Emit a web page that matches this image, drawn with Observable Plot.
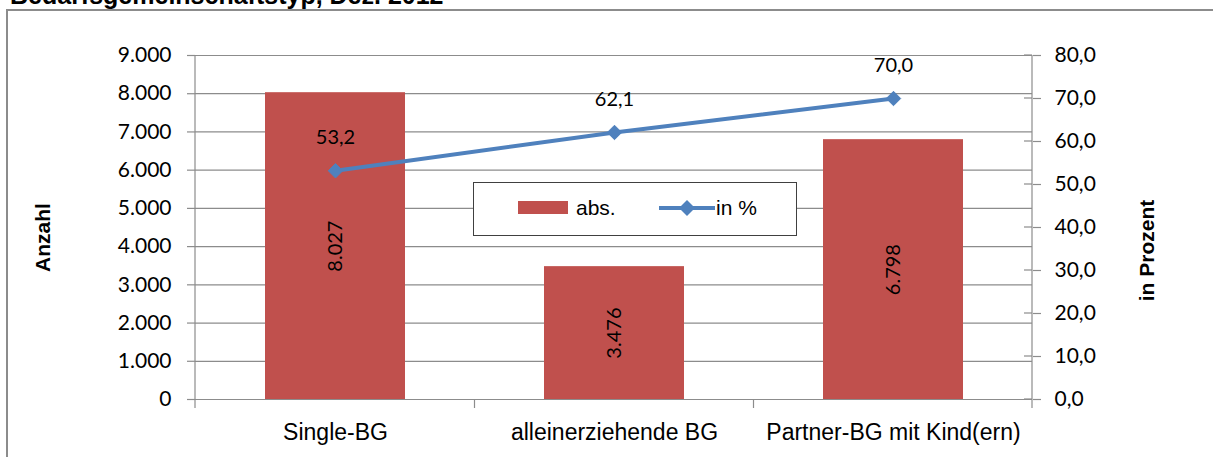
<!DOCTYPE html>
<html>
<head>
<meta charset="utf-8">
<script src="https://cdn.jsdelivr.net/npm/d3@7"></script>
<script src="https://cdn.jsdelivr.net/npm/@observablehq/plot@0.6"></script>
<style>
  html, body { margin: 0; padding: 0; background: #fff; overflow: hidden; }
  #wrap { position: relative; width: 1213px; height: 457px; overflow: hidden; }
  #title { position: absolute; left: 10px; top: -19px; font: bold 25px "Liberation Sans", Arial, sans-serif; color: #000; white-space: nowrap; }
  #frame { position: absolute; left: 6px; top: 9px; width: 1300px; height: 600px; border-left: 2px solid #8c8c8c; border-top: 2px solid #8c8c8c; }
  #chart { position: absolute; left: 0; top: 0; }
  #legend { position: absolute; left: 473px; top: 182px; width: 324px; height: 54px; box-sizing: border-box; border: 1.5px solid #404040; background: #fff;
            font: 21px "Liberation Sans Narrow", "Liberation Sans", sans-serif; color: #000; }
  #legend .item { position: absolute; top: 12px; display: flex; align-items: center; height: 26px; }
</style>
</head>
<body>
<div id="wrap">
  <div id="title">Bedarfsgemeinschaftstyp, Dez. 2012</div>
  <div id="frame"></div>
  <div id="chart"></div>
  <div id="legend"></div>
</div>
<script>
const categories = ["Single-BG", "alleinerziehende BG", "Partner-BG mit Kind(ern)"];
const absValues = [8027, 3476, 6798];
const pctValues = [53.2, 62.1, 70.0];
const leftTicks = [0, 1000, 2000, 3000, 4000, 5000, 6000, 7000, 8000, 9000];
const rightTicks = [0, 10, 20, 30, 40, 50, 60, 70, 80];
const legendLabels = ["abs.", "in %"];
const yLabelLeft = "Anzahl";
const yLabelRight = "in Prozent";

const barColor = "#C0504D";
const lineColor = "#4F81BD";
const gridColor = "#8c8c8c";

const locale = d3.formatLocale({decimal: ",", thousands: ".", grouping: [3], currency: ["", " €"]});
const fmtInt = locale.format(",.0f");
const fmt1 = locale.format(",.1f");

const leftMax = d3.max(leftTicks);
const rightMax = d3.max(rightTicks);
const k = leftMax / rightMax; // maps percent onto the left (count) scale

const data = categories.map((c, i) => ({cat: c, abs: absValues[i], pct: pctValues[i]}));

const W = 1213, H = 457;
const mL = 195, mR = 181, mT = 55, mB = 58;

// custom decorations drawn with the library's scales
function decorations(index, scales, values, dims) {
  const g = d3.create("svg:g");
  const x = scales.x, y = scales.y;
  const left = dims.marginLeft, right = dims.width - dims.marginRight;
  const y0 = y(0), yTop = y(leftMax);
  const centers = categories.map(c => x(c) + (x.bandwidth ? x.bandwidth() : 0) / 2);
  const bounds = [left];
  for (let i = 1; i < centers.length; i++) bounds.push((centers[i - 1] + centers[i]) / 2);
  bounds.push(right);
  g.append("line").attr("x1", left).attr("x2", left).attr("y1", yTop).attr("y2", y0).attr("stroke", gridColor).attr("stroke-width", 1.2);
  g.append("line").attr("x1", right).attr("x2", right).attr("y1", yTop).attr("y2", y0).attr("stroke", gridColor).attr("stroke-width", 1.2);
  for (const b of bounds) {
    g.append("line").attr("x1", b).attr("x2", b).attr("y1", y0).attr("y2", y0 + 9).attr("stroke", gridColor).attr("stroke-width", 1.2);
  }
  for (const t of rightTicks) {
    const yy = y(t * k);
    g.append("line").attr("x1", right - 8).attr("x2", right).attr("y1", yy).attr("y2", yy).attr("stroke", gridColor).attr("stroke-width", 1.2);
  }
  return g.node();
}

const chart = Plot.plot({
  width: W,
  height: H,
  marginLeft: mL,
  marginRight: mR,
  marginTop: mT,
  marginBottom: mB,
  style: {fontFamily: "Lato, sans-serif", background: "transparent"},
  x: {type: "band", domain: categories, paddingInner: 0.5, paddingOuter: 0.25},
  y: {domain: [0, leftMax]},
  marks: [
    Plot.gridY(leftTicks, {stroke: gridColor, strokeOpacity: 1, strokeWidth: 1.2}),
    Plot.barY(data, {x: "cat", y: "abs", fill: barColor}),
    Plot.text(data, {x: "cat", y: d => d.abs / 2, text: d => fmtInt(d.abs), rotate: -90, fontSize: 20, fill: "#000"}),
    Plot.line(data, {x: "cat", y: d => d.pct * k, stroke: lineColor, strokeWidth: 4}),
    Plot.dot(data, {x: "cat", y: d => d.pct * k, symbol: "diamond2", r: 6.5, fill: lineColor, stroke: lineColor, strokeWidth: 1}),
    Plot.text(data, {x: "cat", y: d => d.pct * k, text: d => fmt1(d.pct), dy: -33, fontSize: 20, fill: "#000"}),
    Plot.axisY(leftTicks, {anchor: "left", tickFormat: fmtInt, tickSize: 8, tickPadding: 16, fontSize: 21, stroke: gridColor, strokeWidth: 1.2, label: null, color: "#000"}),
    Plot.axisY(rightTicks.map(t => t * k), {anchor: "right", tickFormat: v => fmt1(v / k), tickSize: 8, tickPadding: 14, fontSize: 21, stroke: gridColor, strokeWidth: 1.2, label: null}),
    Plot.axisX({tickSize: 0, tickPadding: 24, fontSize: 23, fontFamily: "'Liberation Sans Narrow', 'Liberation Sans', sans-serif", label: null}),
    Plot.text([yLabelLeft], {frameAnchor: "left", textAnchor: "middle", dx: -152, dy: 10, rotate: -90, text: d => d, fontSize: 21, fontWeight: "bold", fontFamily: "'Liberation Sans', Arial, sans-serif"}),
    Plot.text([yLabelRight], {frameAnchor: "right", textAnchor: "middle", dx: 115, dy: 23, rotate: -90, text: d => d, fontSize: 21, fontWeight: "bold", fontFamily: "'Liberation Sans', Arial, sans-serif"}),
    decorations
  ]
});
document.getElementById("chart").appendChild(chart);

const legend = document.getElementById("legend");
legend.innerHTML = `
  <div class="item" style="left:44px">
    <svg width="52" height="14" style="margin-right:6px"><rect x="0" y="0" width="50" height="13" fill="${barColor}"/></svg>
    <span>${legendLabels[0]}</span>
  </div>
  <div class="item" style="left:184px">
    <svg width="58" height="18"><line x1="1" x2="57" y1="9" y2="9" stroke="${lineColor}" stroke-width="4"/><path d="M29,1 L37,9 L29,17 L21,9 Z" fill="${lineColor}"/></svg>
    <span>${legendLabels[1]}</span>
  </div>`;
</script>
</body>
</html>
